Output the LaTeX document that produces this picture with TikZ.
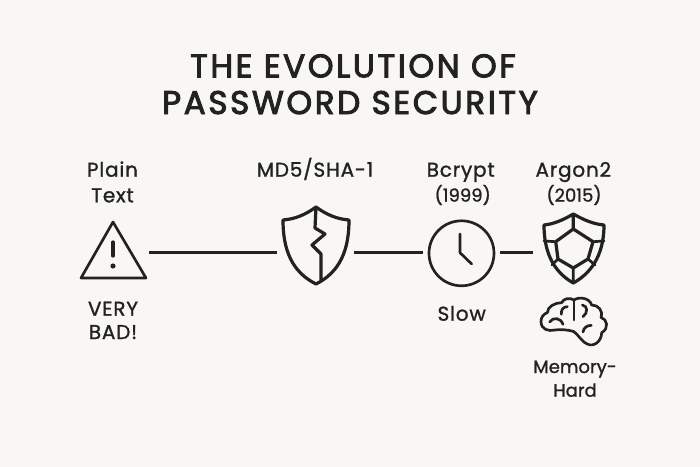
\documentclass[tikz,border=0pt]{standalone}
\usepackage{fontspec}
\usepackage{xcolor}
\setmainfont{Poppins}
\newfontfamily\titlefont[LetterSpace=8,FakeBold=3]{Poppins}
\newfontfamily\labelfont[LetterSpace=4,FakeBold=1.2]{Poppins}
\newfontfamily\plainfont[FakeBold=1.2]{Poppins}
\definecolor{paper}{HTML}{F8F7F3}
\definecolor{ink}{HTML}{222222}
\tikzset{
  titletext/.style={anchor=base,inner sep=0pt,text=ink,font=\titlefont\fontsize{24.5}{28}\selectfont},
  labeltext/.style={anchor=base,inner sep=0pt,text=ink,font=\labelfont\fontsize{15}{19.2}\selectfont},
  smalltext/.style={anchor=base,inner sep=0pt,text=ink,font=\plainfont\fontsize{13.5}{17}\selectfont},
  iconbox/.style={inner sep=0pt,minimum height=20pt},
  iconline/.style={ink,line width=2pt,line join=round,line cap=round},
  link/.style={ink,line width=2pt}
}
\begin{document}
\begin{tikzpicture}[x=0.75pt,y=-0.75pt]
\fill[paper] (0,0) rectangle (700,467);
\useasboundingbox (0,0) rectangle (700,467);
\node[titletext] (title1) at (353,77.3) {THE EVOLUTION OF};
\node[titletext] (title2) at (350,114) {PASSWORD SECURITY};
\node[iconbox,minimum width=54pt] (warn) at (113,252.5) {};
\node[iconbox,minimum width=57.75pt] (broken) at (315.5,252.5) {};
\node[iconbox,minimum width=57.75pt] (clock) at (461.5,252.5) {};
\node[iconbox,minimum width=60pt] (argon) at (573,252.5) {};
\draw[link] (warn.east) -- (broken.west);
\draw[link] (broken.east) -- (clock.west);
\draw[link] (clock.east) -- (argon.west);
\node[labeltext] (plain) at (112.5,176.7) {Plain};
\node[labeltext] (text) at (112.5,202.3) {Text};
\node[labeltext] (md5) at (315,176.7) {MD5/SHA-1};
\node[labeltext] (bcrypt) at (460.7,176.7) {Bcrypt};
\node[smalltext] (y1999) at (462.7,201.7) {(1999)};
\node[labeltext] (argon2) at (573.3,176.7) {Argon2};
\node[smalltext] (y2015) at (574,201.7) {(2015)};
\node[labeltext] (very) at (113,315.7) {VERY};
\node[labeltext] (bad) at (113,339) {BAD!};
\node[labeltext] (slow) at (461.7,320.7) {Slow};
\node[smalltext] (memory) at (575,373) {Memory-};
\node[smalltext] (hard) at (575,396.7) {Hard};
\draw[iconline] (113,222) -- (146,278) -- (81,278) -- cycle;
\draw[iconline,line width=2.4pt] (113,242) -- (113,256);
\fill[ink] (113,266) circle (2.6);
\draw[iconline,line width=2.4pt] (316,207) .. controls (305,215) and (295,219) .. (283,220) .. controls (283,250) and (292,272) .. (316,284) .. controls (340,272) and (349,250) .. (349,220) .. controls (337,219) and (327,215) .. (316,207) -- (315,228) -- (325,234) -- (312,245) -- (321,254) -- (321,281);
\draw[iconline] (clock.center) ++(0,0.8) circle (32.5);
\draw[iconline] (460,234) -- (460,252.7) -- (471.7,264);
\draw[iconline,line width=2.4pt] (573.3,214) .. controls (563,220) and (554,224) .. (544,225) .. controls (544,250) and (552,271) .. (573.3,283) .. controls (595,271) and (604,250) .. (604,225) .. controls (593,224) and (584,220) .. (573.3,214) -- (573.3,229) -- (593,241.7) -- (588,259) -- (573.3,268) -- (558,259) -- (555.7,241.7) -- (573.3,229);
\draw[iconline] (544,241) -- (555.7,241.7) (604,241) -- (593,241.7) (558,259) -- (552,265) (588,259) -- (595,265) (573.3,268) -- (573.3,283);
\begin{scope}[shift={(538,296)},x=0.25pt,y=-0.25pt]
\draw[iconline] (108,107) .. controls (86,100) and (66,100) .. (51,102) .. controls (31,107) and (9,100) .. (9,77) .. controls (9,64) and (16,54) .. (28,50) .. controls (28,32) and (51,20) .. (71,20) .. controls (76,7) and (96,4) .. (108,12) .. controls (121,2) and (154,4) .. (161,27) .. controls (181,27) and (196,44) .. (189,64) .. controls (208,70) and (214,97) .. (191,110) .. controls (191,137) and (166,154) .. (148,144) .. controls (136,142) and (121,117) .. (108,107);
\draw[iconline] (108,12) -- (108,72);
\draw[iconline] (35,78) .. controls (45,62) and (68,65) .. (75,85);
\draw[iconline] (88,32) .. controls (75,32) and (69,42) .. (70,55);
\draw[iconline] (133,27) .. controls (150,30) and (150,50) .. (135,62);
\draw[iconline] (160,88) .. controls (147,88) and (137,95) .. (135,108);
\end{scope}
\end{tikzpicture}
\end{document}
